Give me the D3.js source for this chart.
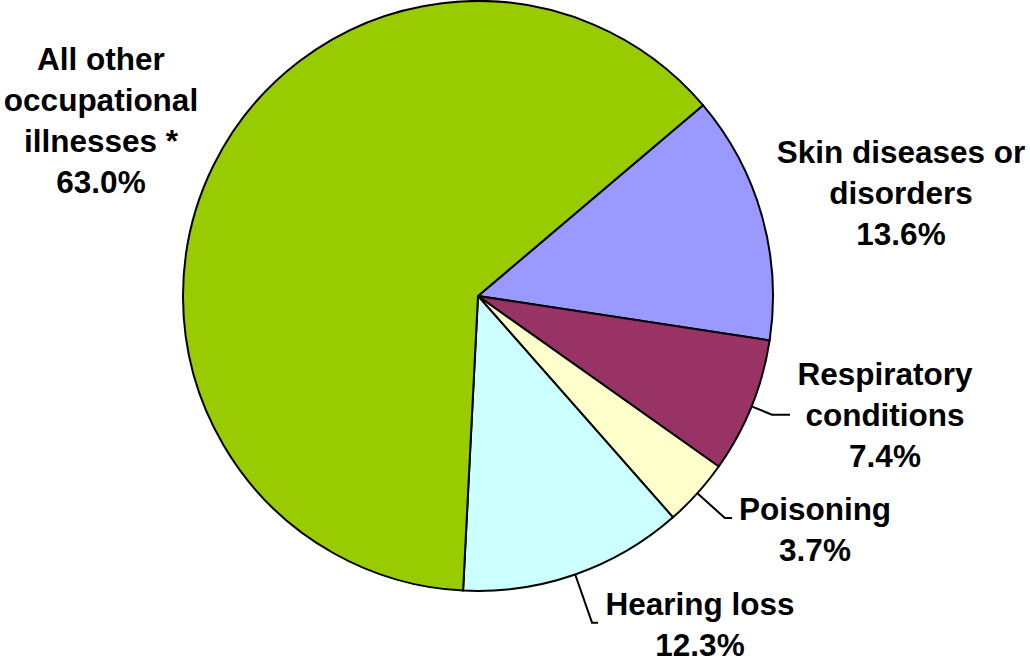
<!DOCTYPE html>
<html>
<head>
<meta charset="utf-8">
<script src="https://cdn.jsdelivr.net/npm/d3@7"></script>
<style>
  body { margin: 0; background: #fff; }
  svg { display: block; }
  .label { font-family: Arial, "Liberation Sans", sans-serif; font-weight: bold; font-size: 31.5px; fill: #000; }
</style>
</head>
<body>
<svg width="1030" height="662"></svg>
<script>
// data, in clockwise order starting at the Skin slice
const categories = ['Skin diseases or disorders', 'Respiratory conditions', 'Poisoning', 'Hearing loss', 'All other occupational illnesses *']
const labelLines = [
  ['Skin diseases or', 'disorders'],
  ['Respiratory', 'conditions'],
  ['Poisoning'],
  ['Hearing loss'],
  ['All other', 'occupational', 'illnesses *']
]
const shares = [13.6, 7.4, 3.7, 12.3, 63.0]
const colors = ['#9999ff', '#993366', '#ffffcc', '#ccffff', '#99cc00']

// layout
const cx = 478, cy = 296, radius = 295
const startDeg = 49.7
const lineGap = 41
// label block: centre x and first baseline y
const labelAnchor = [[901, 163], [885, 385], [815, 520], [700, 615], [101, 70]]
// leader lines: extra radius for the elbow, x where the horizontal part ends (null = no leader)
const leaderElbow = [null, 22, 37, 51, null]
const leaderEnd = [null, 790, 732, 598, null]

const svg = d3.select('svg')
const g = svg.append('g').attr('transform', `translate(${cx},${cy})`)

const pie = d3.pie()
  .sort(null)
  .value(d => d)
  .startAngle(startDeg * Math.PI / 180)
  .endAngle(startDeg * Math.PI / 180 + 2 * Math.PI)

const arc = d3.arc().innerRadius(0).outerRadius(radius)
const arcs = pie(shares)

g.selectAll('path.slice')
  .data(arcs)
  .enter()
  .append('path')
  .attr('class', 'slice')
  .attr('d', arc)
  .attr('fill', (d, i) => colors[i])
  .attr('stroke', '#000')
  .attr('stroke-width', 2)
  .attr('stroke-linejoin', 'round')

// leader lines
arcs.forEach((d, i) => {
  if (leaderElbow[i] == null) return
  const a = (d.startAngle + d.endAngle) / 2
  const p0 = [cx + radius * Math.sin(a), cy - radius * Math.cos(a)]
  const r1 = radius + leaderElbow[i]
  const p1 = [cx + r1 * Math.sin(a), cy - r1 * Math.cos(a)]
  const p2 = [leaderEnd[i], p1[1]]
  svg.append('path')
    .attr('d', d3.line()([p0, p1, p2]))
    .attr('fill', 'none')
    .attr('stroke', '#000')
    .attr('stroke-width', 2)
})

// labels
arcs.forEach((d, i) => {
  const lines = labelLines[i].concat([shares[i].toFixed(1) + '%'])
  const t = svg.append('text')
    .attr('class', 'label')
    .attr('text-anchor', 'middle')
    .attr('x', labelAnchor[i][0])
    .attr('y', labelAnchor[i][1])
  t.selectAll('tspan')
    .data(lines)
    .enter()
    .append('tspan')
    .attr('x', labelAnchor[i][0])
    .attr('dy', (l, j) => j === 0 ? 0 : lineGap)
    .text(l => l)
})
</script>
</body>
</html>
